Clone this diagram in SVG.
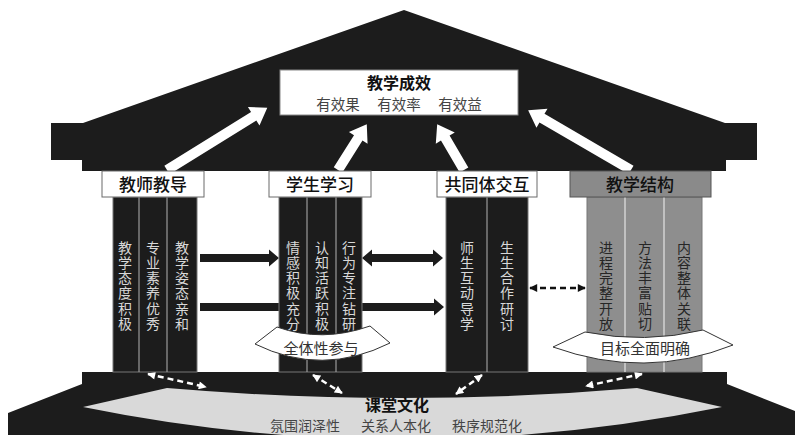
<svg xmlns="http://www.w3.org/2000/svg" width="795" height="435" viewBox="0 0 795 435">
<defs>
<style>
.blk{fill:#1c1c1c}
.lbl{fill:#fff;stroke:#6a6a6a;stroke-width:1}
.lt{font-family:"Noto Sans CJK SC","Noto Sans",sans-serif;font-size:17px;font-weight:500;fill:#111;text-anchor:middle}
.ttl{font-family:"Noto Sans CJK SC","Noto Sans",sans-serif;font-size:16px;font-weight:bold;fill:#111;text-anchor:middle}
.sub{font-family:"Noto Sans CJK SC","Noto Sans",sans-serif;font-size:14.5px;fill:#444;text-anchor:middle}
.sub2{font-family:"Noto Sans CJK SC","Noto Sans",sans-serif;font-size:14px;fill:#444;text-anchor:middle}
.col{font-family:"Noto Sans CJK SC","Noto Sans",sans-serif;font-size:14px;fill:#d8d8d8;text-anchor:middle;writing-mode:vertical-rl;letter-spacing:1.2px}
.colg{font-family:"Noto Sans CJK SC","Noto Sans",sans-serif;font-size:14px;fill:#262626;text-anchor:middle;writing-mode:vertical-rl;letter-spacing:1.2px}
.pil{fill:#1c1c1c;stroke:#777;stroke-width:1}
.pilg{fill:#8e8e8e;stroke:#777;stroke-width:1}
.div{stroke:#9a9a9a;stroke-width:1.2}
.divg{stroke:#d2d2d2;stroke-width:1.5}
.band{fill:#fff;stroke:#333;stroke-width:1}
.bt{font-family:"Noto Sans CJK SC","Noto Sans",sans-serif;font-size:15px;fill:#333;text-anchor:middle}
.wa{fill:#fff}
.dw{stroke:#fff;stroke-width:2.5;stroke-dasharray:6 4;fill:none;marker-start:url(#hw);marker-end:url(#hw)}
.db{stroke:#111;stroke-width:2.5;stroke-dasharray:6 4;fill:none;marker-start:url(#hb);marker-end:url(#hb)}
</style>
<marker id="hw" viewBox="0 0 10 10" refX="9" refY="5" markerUnits="userSpaceOnUse" markerWidth="9" markerHeight="8" orient="auto-start-reverse"><path d="M0,0 L10,5 L0,10 Z" fill="#fff"/></marker>
<marker id="hb" viewBox="0 0 10 10" refX="9" refY="5" markerUnits="userSpaceOnUse" markerWidth="9" markerHeight="8" orient="auto-start-reverse"><path d="M0,0 L10,5 L0,10 Z" fill="#111"/></marker>
</defs>
<rect width="795" height="435" fill="#fff"/>

<g id="roof">
<path class="blk" d="M83,123 L404,10 L725,123 L757,123 L757,160 L726,160 L726,171 L82,171 L82,160 L51,160 L51,123 Z"/>
</g>

<g id="base">
<path class="blk" d="M82,372 L727,372 L727,384 L795,411 L795,435 L8,435 L8,413 L82,384 Z"/>
</g>

<g id="node-culture">
<path d="M83,407 L167,388 Q402,408 637,388 L722,407 Q402,472 83,407 Z" fill="#d9d9d9"/>
<text class="ttl" x="397" y="411">课堂文化</text>
<text class="sub2" x="305" y="431">氛围润泽性</text>
<text class="sub2" x="396" y="431">关系人本化</text>
<text class="sub2" x="487" y="431">秩序规范化</text>
</g>

<g id="connectors">
<path class="wa" d="M0,-5 H102 V-11 L118,0 L102,11 V5 H0 Z" transform="translate(167,170) rotate(-31.8)"/>
<path class="wa" d="M0,-5 H38 V-11 L54,0 L38,11 V5 H0 Z" transform="translate(338,170) rotate(-57.8)"/>
<path class="wa" d="M0,-5 H37 V-11 L53,0 L37,11 V5 H0 Z" transform="translate(464,170) rotate(-120.4)"/>
<path class="wa" d="M0,-5 H103 V-11 L119,0 L103,11 V5 H0 Z" transform="translate(631,170) rotate(-149.8)"/>
<path class="blk" d="M200,254 L269,254 L269,249.5 L279,258 L269,266.5 L269,262 L200,262 Z"/>
<path class="blk" d="M362,258 L372,249.5 L372,254 L433,254 L433,249.5 L443,258 L433,266.5 L433,262 L372,262 L372,266.5 Z"/>
<path class="blk" d="M200,303 L434,303 L434,298.5 L444,307 L434,315.5 L434,311 L200,311 Z"/>
<line class="db" x1="530" y1="288" x2="585" y2="288"/>
<line class="dw" x1="148" y1="374" x2="206" y2="387"/>
<line class="dw" x1="313" y1="375" x2="342" y2="393"/>
<line class="dw" x1="482" y1="375" x2="456" y2="394"/>
<line class="dw" x1="642" y1="374" x2="586" y2="386"/>
</g>

<g id="node-result">
<rect x="280" y="70" width="238" height="45" fill="#fff" stroke="#888" stroke-width="1"/>
<text class="ttl" x="399" y="89">教学成效</text>
<text class="sub" x="338" y="110">有效果</text>
<text class="sub" x="399" y="110">有效率</text>
<text class="sub" x="460" y="110">有效益</text>
</g>

<g id="node-teacher">
<rect class="pil" x="113" y="197" width="84" height="175"/>
<line class="div" x1="139" y1="197" x2="139" y2="372"/>
<line class="div" x1="167" y1="197" x2="167" y2="372"/>
<rect class="lbl" x="102" y="171" width="102" height="26"/>
<text class="lt" x="153" y="191">教师教导</text>
<text class="col" x="125" y="286">教学态度积极</text>
<text class="col" x="153" y="286">专业素养优秀</text>
<text class="col" x="182" y="286">教学姿态亲和</text>
</g>

<g id="node-student">
<rect class="pil" x="279" y="197" width="83" height="175"/>
<line class="div" x1="307" y1="197" x2="307" y2="372"/>
<line class="div" x1="336" y1="197" x2="336" y2="372"/>
<rect class="lbl" x="269" y="171" width="102" height="26"/>
<text class="lt" x="320" y="191">学生学习</text>
<text class="col" x="293" y="286">情感积极充分</text>
<text class="col" x="322" y="286">认知活跃积极</text>
<text class="col" x="349" y="286">行为专注钻研</text>
</g>

<g id="node-community">
<rect class="pil" x="446" y="197" width="82" height="175"/>
<line class="div" x1="487" y1="197" x2="487" y2="372"/>
<rect class="lbl" x="437" y="171" width="100" height="26"/>
<text class="lt" x="487" y="191">共同体交互</text>
<text class="col" x="467" y="286">师生互动导学</text>
<text class="col" x="507" y="286">生生合作研讨</text>
</g>

<g id="node-structure">
<rect class="pilg" x="587" y="197" width="115" height="175"/>
<line class="divg" x1="625" y1="197" x2="625" y2="372"/>
<line class="divg" x1="664" y1="197" x2="664" y2="372"/>
<rect x="570" y="171" width="141" height="26" fill="#8a8a8a" stroke="#555" stroke-width="1"/>
<text class="lt" x="640" y="191">教学结构</text>
<text class="colg" x="606" y="286">进程完整开放</text>
<text class="colg" x="645" y="286">方法丰富贴切</text>
<text class="colg" x="684" y="286">内容整体关联</text>
</g>

<g id="band-participation">
<path class="band" d="M255,344 L277,327 Q322,343 370,326 L390,343 Q322,377 255,344 Z"/>
<text class="bt" x="321" y="354">全体性参与</text>
</g>

<g id="band-goal">
<path class="band" d="M553,347 L585,332 Q645,344 703,330 L733,345 Q645,380 553,347 Z"/>
<text class="bt" x="645" y="354">目标全面明确</text>
</g>
</svg>
